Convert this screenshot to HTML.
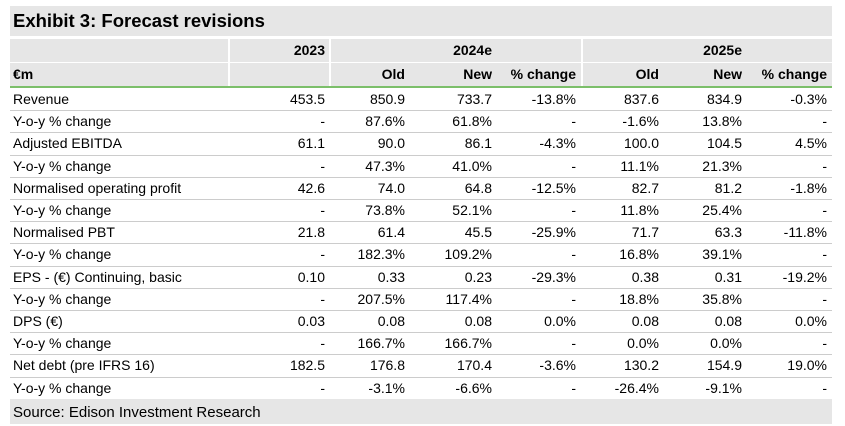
<!DOCTYPE html>
<html><head><style>
body{margin:0;width:845px;height:424px;background:#fff;font-family:"Liberation Sans",Arial,sans-serif;position:relative;overflow:hidden;color:#000}
.title{position:absolute;left:10px;top:6px;width:822px;height:30px;background:#e6e6e6;font-weight:bold;font-size:18.5px;line-height:30px;padding-left:3px;box-sizing:border-box}
.hdr{position:absolute;left:10px;width:822px;height:23px;background:#e6e6e6}
.sep{position:absolute;width:2px;background:#fff;top:39px;height:48px}
.t{position:absolute;font-size:14px;white-space:nowrap}
.b{font-weight:bold}
.r{text-align:right}
.line{position:absolute;left:10px;width:822px;height:1px;background:#ccc}
.src{position:absolute;left:10px;top:399px;width:822px;height:25px;background:#e6e6e6;font-size:15px;line-height:27px;padding-left:3px;box-sizing:border-box}
</style></head><body>
<div class="title">Exhibit 3: Forecast revisions</div>
<div class="hdr" style="top:39px"></div>
<div class="hdr" style="top:63px"></div>
<div style="position:absolute;left:10px;top:62px;width:822px;height:1px;background:#fff"></div>
<div class="sep" style="left:228px"></div>
<div class="sep" style="left:329px"></div>
<div class="sep" style="left:581px"></div>
<div style="position:absolute;left:10px;top:86px;width:822px;height:2px;background:#7cbf6a"></div>
<div id="rows"></div>
<div class="src">Source: Edison Investment Research</div>
<script>
const cols=[325,405,492,576,659,742,827];
function T(txt,right,y,cls){const d=document.createElement('div');d.className='t '+(cls||'');d.textContent=txt;d.style.top=y+'px';if(right==null){d.style.left='13px'}else{d.style.right=(845-right)+'px'}document.body.appendChild(d)}
T('2023',325,42,'b');T('2024e',492,42,'b');T('2025e',742,42,'b');
T('€m',null,66,'b');['Old','New','% change','Old','New','% change'].forEach((h,i)=>T(h,cols[i+1],66,'b'));
const data=[
['Revenue','453.5','850.9','733.7','-13.8%','837.6','834.9','-0.3%'],
['Y-o-y % change','-','87.6%','61.8%','-','-1.6%','13.8%','-'],
['Adjusted EBITDA','61.1','90.0','86.1','-4.3%','100.0','104.5','4.5%'],
['Y-o-y % change','-','47.3%','41.0%','-','11.1%','21.3%','-'],
['Normalised operating profit','42.6','74.0','64.8','-12.5%','82.7','81.2','-1.8%'],
['Y-o-y % change','-','73.8%','52.1%','-','11.8%','25.4%','-'],
['Normalised PBT','21.8','61.4','45.5','-25.9%','71.7','63.3','-11.8%'],
['Y-o-y % change','-','182.3%','109.2%','-','16.8%','39.1%','-'],
['EPS - (€) Continuing, basic','0.10','0.33','0.23','-29.3%','0.38','0.31','-19.2%'],
['Y-o-y % change','-','207.5%','117.4%','-','18.8%','35.8%','-'],
['DPS (€)','0.03','0.08','0.08','0.0%','0.08','0.08','0.0%'],
['Y-o-y % change','-','166.7%','166.7%','-','0.0%','0.0%','-'],
['Net debt (pre IFRS 16)','182.5','176.8','170.4','-3.6%','130.2','154.9','19.0%'],
['Y-o-y % change','-','-3.1%','-6.6%','-','-26.4%','-9.1%','-']];
const rh=22.2;
data.forEach((r,i)=>{const y=88+i*rh;T(r[0],null,y+3);for(let j=1;j<8;j++)T(r[j],cols[j-1],y+3);
if(i<13){const l=document.createElement('div');l.className='line';l.style.top=Math.round(y+rh)+'px';document.body.appendChild(l)}});
</script>
</body></html>
